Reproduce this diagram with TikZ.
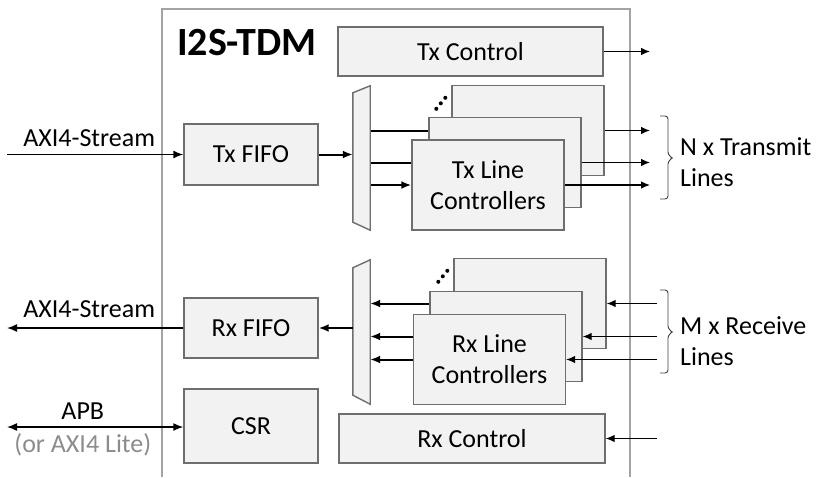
\documentclass[tikz,border=0pt]{standalone}
\usepackage{fontspec}
\setmainfont{Carlito}
\usepackage{xcolor}
\usepackage{tikz}
\usetikzlibrary{arrows.meta, calc, positioning, backgrounds}

\definecolor{boxfill}{HTML}{F2F2F2}
\definecolor{boxline}{HTML}{6E6E6E}
\definecolor{frameline}{HTML}{A3A3A3}
\definecolor{notegray}{HTML}{8C8C8C}

\tikzset{
  block/.style={draw=boxline, fill=boxfill, line width=1.4pt, inner sep=0pt,
    align=center, font=\fontsize{26}{31}\selectfont},
  linebox/.style={block, minimum width=152pt, minimum height=90pt},
  muxbox/.style={inner sep=0pt, minimum width=17pt, minimum height=144pt},
  bus/.style={-{Latex[length=10pt,width=8pt]}, line width=2pt},
  wire/.style={-{Latex[length=9pt,width=7.5pt]}, line width=1.1pt},
  extbus/.style={line width=1.5pt},
  lbl/.style={font=\fontsize{26}{31}\selectfont, inner sep=0pt},
  bracket/.style={rounded corners=3pt, line width=0.9pt, black!75},
}

\begin{document}
\begin{tikzpicture}[x=1pt, y=-1pt]
    \useasboundingbox (0,0) rectangle (817,477);

    % 1. Khung ngoài I2S-TDM
    \draw[frameline, line width=2.6pt] (162,477) -- (162,9) -- (630,9) -- (630,477);
    \node[anchor=west, inner sep=0pt, font=\bfseries\fontsize{40}{44}\selectfont] (title) at (177,43) {I2S-TDM};

    % 2. Các khối chính
    \node[block, minimum width=265pt, minimum height=49pt] (txctrl) at (470.5,51.5) {Tx Control};
    \node[block, minimum width=134pt, minimum height=61pt] (txfifo) at (251,154.5) {Tx FIFO};
    \node[block, minimum width=134pt, minimum height=60pt] (rxfifo) at (251,328) {Rx FIFO};
    \node[block, minimum width=134pt, minimum height=74pt] (csr) at (251,426) {CSR};
    \node[block, minimum width=266pt, minimum height=49pt] (rxctrl) at (472,438.5) {Rx Control};

    % 3. Bộ chọn kênh (mux) hình thang
    \node[muxbox] (txmux) at (361.5,158) {};
    \draw[draw=boxline, fill=boxfill, line width=1.4pt] ($(txmux.north west)+(0,7)$) -- (txmux.north east)
        -- (txmux.south east) -- ($(txmux.south west)+(0,-8)$) -- cycle;
    \node[muxbox] (rxmux) at (361.5,332) {};
    \draw[draw=boxline, fill=boxfill, line width=1.4pt] ($(rxmux.north west)+(0,8)$) -- (rxmux.north east)
        -- (rxmux.south east) -- ($(rxmux.south west)+(0,-9)$) -- cycle;

    % 4. Bộ điều khiển đường truyền, xếp chồng từ sau ra trước
    \node[linebox] (txback) at (528,130.5) {};
    \node[linebox] (txmid) at (505,162.5) {};
    \node[linebox] (txfront) at (488,185) {Tx Line\\Controllers};
    \node[linebox] (rxback) at (530,303.5) {};
    \node[linebox] (rxmid) at (506,336.5) {};
    \node[linebox] (rxfront) at (489.5,359.5) {Rx Line\\Controllers};

    % dấu chấm chéo
    \foreach \dx/\dy in {-15/24, -10.5/18.5, -6/13} {
        \fill ($(txback.north west)+(\dx,\dy)$) circle (2pt);
        \fill ($(rxback.north west)+(\dx,\dy)$) circle (2pt);
    }

    % 5. Đường nối mux <-> bộ điều khiển (nằm sau các khối)
    \begin{pgfonlayer}{background}
        \draw[bus] (txmux.east |- txback.west) -- (txback.west);
        \draw[bus] (txmux.east |- txmid.west) -- (txmid.west);
        \draw[bus] (txmux.east |- txfront.west) -- (txfront.west);
        \draw[bus] (rxback.west) -- (rxmux.east |- rxback.west);
        \draw[bus] (rxmid.west) -- (rxmux.east |- rxmid.west);
        \draw[bus] (rxfront.west) -- (rxmux.east |- rxfront.west);
    \end{pgfonlayer}
    \draw[bus] (txfifo.east) -- (txfifo.east -| txmux.west);
    \draw[bus] (rxfifo.east -| rxmux.west) -- (rxfifo.east);

    % 6. Cổng bên trái
    \coordinate (leftend) at (7,0);
    \draw[extbus, -{Latex[length=10pt,width=8pt]}] (txfifo.west -| leftend) -- (txfifo.west)
        node[lbl, pos=0.466, above=7pt] (axitx) {AXI4-Stream};
    \draw[extbus, -{Latex[length=10pt,width=8pt]}] (rxfifo.west) -- (rxfifo.west -| leftend)
        node[lbl, pos=0.534, above=10pt] (axirx) {AXI4-Stream};
    \draw[extbus, {Latex[length=10pt,width=8pt]}-{Latex[length=10pt,width=8pt]}] (csr.west |- 0,427) coordinate (apbin)
        -- (apbin -| leftend) node[lbl, pos=0.57, above=7pt] (apb) {APB}
        node[lbl, pos=0.57, below=6pt, text=notegray] (apbnote) {(or AXI4 Lite)};

    % 7. Cổng bên phải
    \coordinate (rightend) at (650,0);
    \coordinate (rightstart) at (657,0);
    \draw[wire] (txctrl.east) -- (txctrl.east -| rightend);
    \draw[wire] (txback.east) -- (txback.east -| rightend);
    \draw[wire] (txmid.east) -- (txmid.east -| rightend);
    \draw[wire] (txfront.east) -- (txfront.east -| rightend);
    \draw[wire] (rxback.east -| rightstart) -- (rxback.east);
    \draw[wire] (rxmid.east -| rightstart) -- (rxmid.east);
    \draw[wire] (rxfront.east -| rightstart) -- (rxfront.east);
    \draw[wire] (rxctrl.east -| rightstart) -- (rxctrl.east);

    % 8. Ngoặc và chú thích
    \draw[bracket] (660,116) -- (668,116) -- (668,155) -- (673,158) -- (668,161) -- (668,199) -- (660,199);
    \node[lbl, anchor=west, align=left] (txlines) at (680,162.5) {N x Transmit\\Lines};
    \draw[bracket] (660,290) -- (668,290) -- (668,329) -- (673,332) -- (668,335) -- (668,373) -- (660,373);
    \node[lbl, anchor=west, align=left] (rxlines) at (680,341) {M x Receive\\Lines};

\end{tikzpicture}
\end{document}
